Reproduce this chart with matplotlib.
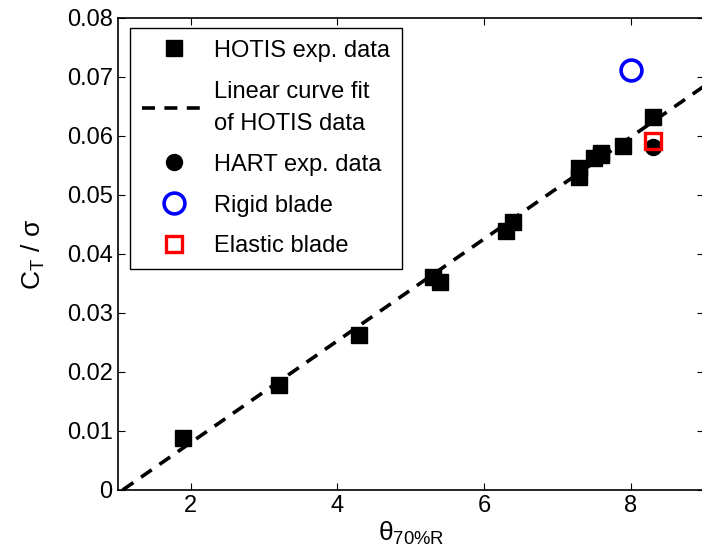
import numpy as np
import matplotlib
matplotlib.use("Agg")
import matplotlib.pyplot as plt

plt.rcParams['font.family'] = ['Liberation Sans', 'DejaVu Sans']
plt.rcParams['mathtext.fontset'] = 'custom'
plt.rcParams['mathtext.rm'] = 'Liberation Sans'
plt.rcParams['mathtext.it'] = 'Liberation Sans:italic'

# HOTIS experimental data
hotis_theta = [1.9, 3.2, 4.3, 5.3, 5.4, 6.3, 6.4, 7.3, 7.3, 7.5, 7.6, 7.6, 7.9, 8.3]
hotis_ct = [0.0088, 0.0178, 0.0263, 0.0361, 0.0353, 0.0439, 0.0455,
            0.0531, 0.0546, 0.0563, 0.0568, 0.0572, 0.0583, 0.0632]

# Linear fit of HOTIS data (slope, intercept), drawn over this theta range
fit_slope = 0.00863
fit_intercept = -0.00923
fit_range = [1.07, 9.0]

# HART experimental data and simulations
hart_theta = [8.3]
hart_ct = [0.0582]
rigid_theta = [8.0]
rigid_ct = [0.0712]
elastic_theta = [8.3]
elastic_ct = [0.0591]

fig = plt.figure(figsize=(7.02, 5.6), dpi=100)
ax = fig.add_axes([0.1674, 0.125, 0.8355, 0.8429])

fit_x = np.array(fit_range)
fit_y = fit_slope * fit_x + fit_intercept

ax.plot(hotis_theta, hotis_ct, 's', color='black', ms=11.5, label='HOTIS exp. data')
ax.plot(fit_x, fit_y, color='black', lw=2.6, dashes=(3.6, 2.6),
        label='Linear curve fit\nof HOTIS data')
ax.plot(hart_theta, hart_ct, 'o', color='black', ms=11.5, label='HART exp. data')
ax.plot(rigid_theta, rigid_ct, 'o', mfc='none', mec='blue', ms=15, mew=2.6,
        label='Rigid blade')
ax.plot(elastic_theta, elastic_ct, 's', mfc='none', mec='red', ms=12, mew=2.4,
        label='Elastic blade')

ax.set_xlim(1, 9)
ax.set_ylim(0, 0.08)
ax.set_xticks([2, 4, 6, 8])
ax.set_yticks(np.arange(0, 0.081, 0.01))
ax.set_yticklabels(['0', '0.01', '0.02', '0.03', '0.04', '0.05', '0.06', '0.07', '0.08'])
ax.tick_params(direction='in', top=True, right=True, labelsize=17, length=5, width=0.8)
for s in ax.spines.values():
    s.set_linewidth(1.2)

ax.set_xlabel(r'$\mathrm{\theta_{70\%R}}$', fontsize=19, labelpad=2)
ax.set_ylabel(r'$\mathrm{C_T\ /\ \sigma}$', fontsize=19, labelpad=14)

leg = ax.legend(loc='upper left', bbox_to_anchor=(0.0213, 0.979), borderaxespad=0,
                fontsize=17, fancybox=False, framealpha=1, edgecolor='black',
                handlelength=2.75, handletextpad=0.3, labelspacing=0.8, borderpad=0.5)
leg.get_frame().set_linewidth(1.0)
for t in leg.get_texts():
    t.set_linespacing(1.6)

fig.savefig('out.png', dpi=100)
